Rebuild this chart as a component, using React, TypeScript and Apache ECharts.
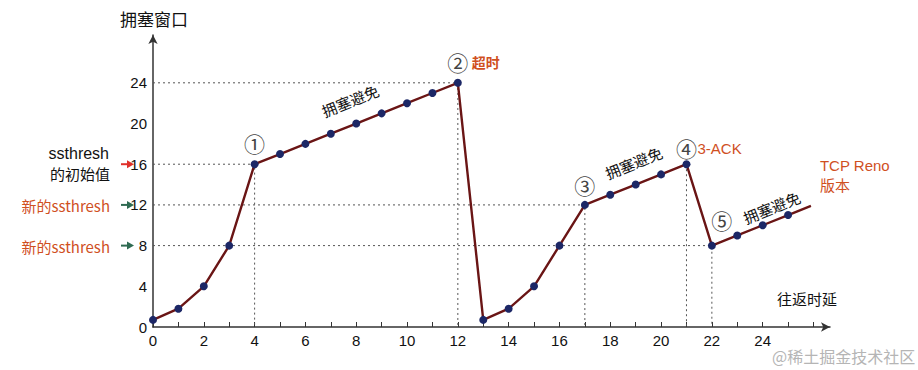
import React, { useEffect, useRef } from "react";
import * as echarts from "echarts";

const rounds = [0, 1, 2, 3, 4, 5, 6, 7, 8, 9, 10, 11, 12, 13, 14, 15, 16, 17, 18, 19, 20, 21, 22, 23, 24, 25, 25.9];
const cwnd = [0.7, 1.8, 4, 8, 16, 17, 18, 19, 20, 21, 22, 23, 24, 0.7, 1.8, 4, 8, 12, 13, 14, 15, 16, 8, 9, 10, 11, 11.9];
const yTicks = [0, 4, 8, 12, 16, 20, 24];
const xTickMax = 24;

const guideLines: number[][][] = [
  [[0, 24], [12, 24], [12, 0]],
  [[0, 16], [4, 16], [4, 0]],
  [[0, 12], [17, 12], [17, 0]],
  [[21, 16], [21, 0]],
  [[0, 8], [22, 8], [22, 0]],
];

const circleMarks = [
  { text: "①", x: 4, y: 16, dx: 0, dy: -21 },
  { text: "②", x: 12, y: 24, dx: 0, dy: -21 },
  { text: "③", x: 17, y: 12, dx: 0, dy: -20 },
  { text: "④", x: 21, y: 16, dx: 0, dy: -16 },
  { text: "⑤", x: 22, y: 8, dx: 10, dy: -26 },
];

const caLabels = [
  { x: 8, y: 20, dx: -6, dy: -23 },
  { x: 19, y: 14, dx: -2, dy: -22 },
  { x: 24, y: 10, dx: 9, dy: -18 },
];

const ORANGE = "#d0501f";
const LINE = "#6a1515";
const DOT = "#1c2766";
const FONT = "'Liberation Sans', Arial, 'Noto Sans CJK SC', sans-serif";
const CJK = "'Noto Sans CJK SC', 'Liberation Sans', sans-serif";

export default function App() {
  const ref = useRef<HTMLDivElement>(null);
  useEffect(() => {
    if (!ref.current) return;
    const chart = echarts.init(ref.current, null, { renderer: "svg" });
    const lineData = rounds.map((r, i) =>
      i === rounds.length - 1
        ? { value: [r, cwnd[i]], symbol: "none" }
        : { value: [r, cwnd[i]] }
    );
    const guideSeries = guideLines.map((pts) => ({
      type: "line",
      data: pts,
      symbol: "none",
      silent: true,
      z: 1,
      lineStyle: { color: "#555", width: 1, type: [2, 3] },
    }));
    chart.setOption({
      animation: false,
      grid: { left: 153, right: 88, top: 35, bottom: 43 },
      xAxis: {
        type: "value",
        min: 0,
        max: 26.65,
        interval: 1,
        splitLine: { show: false },
        axisLine: {
          lineStyle: { color: "#333", width: 1.5 },
          symbol: ["none", "arrow"],
          symbolSize: [7, 9],
        },
        axisTick: { inside: true, length: 5, lineStyle: { color: "#333" } },
        axisLabel: {
          margin: 6,
          fontSize: 15,
          color: "#111",
          fontFamily: FONT,
          showMaxLabel: false,
          formatter: (v: number) => (v % 2 === 0 && v <= xTickMax ? String(v) : ""),
        },
      },
      yAxis: {
        type: "value",
        min: 0,
        max: 28.7,
        interval: 4,
        splitLine: { show: false },
        axisLine: {
          show: true,
          lineStyle: { color: "#333", width: 1.5 },
          symbol: ["none", "arrow"],
          symbolSize: [7, 9],
        },
        axisTick: { show: false },
        axisLabel: {
          margin: 6,
          fontSize: 15,
          color: "#111",
          fontFamily: FONT,
          showMaxLabel: false,
          formatter: (v: number) => (yTicks.includes(v) ? String(v) : ""),
        },
      },
      series: [
        ...guideSeries,
        {
          type: "line",
          data: lineData,
          symbol: "circle",
          symbolSize: 8,
          z: 5,
          lineStyle: { color: LINE, width: 2.4 },
          itemStyle: { color: DOT },
        },
      ],
    });

    const px = (x: number, y: number) => chart.convertToPixel({ gridIndex: 0 }, [x, y]) as number[];
    const g: any[] = [];
    circleMarks.forEach((c) => {
      const p = px(c.x, c.y);
      g.push({
        type: "text",
        x: p[0] + c.dx,
        y: p[1] + c.dy,
        style: { text: c.text, fontSize: 21, fill: "#444", fontFamily: CJK, align: "center", verticalAlign: "middle" },
      });
    });
    const rot = Math.atan2(10.17, 25.4);
    caLabels.forEach((c) => {
      const p = px(c.x, c.y);
      g.push({
        type: "text",
        x: p[0] + c.dx,
        y: p[1] + c.dy,
        rotation: rot,
        style: { text: "拥塞避免", fontSize: 15, fill: "#111", fontFamily: CJK, align: "center", verticalAlign: "middle" },
      });
    });
    const p2 = px(12, 24);
    g.push({ type: "text", x: p2[0] + 14, y: p2[1] - 21, style: { text: "超时", fontSize: 14, fontWeight: "bold", fill: ORANGE, fontFamily: CJK, verticalAlign: "middle" } });
    const p4 = px(21, 16);
    g.push({ type: "text", x: p4[0] + 11, y: p4[1] - 16, style: { text: "3-ACK", fontSize: 15, fill: ORANGE, fontFamily: FONT, verticalAlign: "middle" } });
    const pe = px(25.9, 11.9);
    g.push({ type: "text", x: pe[0] + 9, y: pe[1] - 30, style: { text: "TCP Reno\n版本", fontSize: 15, lineHeight: 20, fill: ORANGE, fontFamily: FONT, verticalAlign: "middle" } });
    g.push({ type: "text", x: 777, y: 298, style: { text: "往返时延", fontSize: 15, fill: "#111", fontFamily: CJK, verticalAlign: "middle" } });
    g.push({ type: "text", x: 120, y: 18, style: { text: "拥塞窗口", fontSize: 17, fill: "#111", fontFamily: CJK, verticalAlign: "middle" } });

    // left annotations
    const y16 = px(0, 16)[1];
    const y12 = px(0, 12)[1];
    const y8 = px(0, 8)[1];
    g.push({ type: "text", x: 109, y: y16 - 11, style: { text: "ssthresh", fontSize: 16, fill: "#111", fontFamily: FONT, align: "right", verticalAlign: "middle" } });
    g.push({ type: "text", x: 110, y: y16 + 9, style: { text: "的初始值", fontSize: 15, fill: "#111", fontFamily: CJK, align: "right", verticalAlign: "middle" } });
    g.push({ type: "text", x: 110, y: y12 + 1, style: { text: "新的ssthresh", fontSize: 15, fill: ORANGE, fontFamily: CJK, align: "right", verticalAlign: "middle" } });
    g.push({ type: "text", x: 110, y: y8 + 1, style: { text: "新的ssthresh", fontSize: 15, fill: ORANGE, fontFamily: CJK, align: "right", verticalAlign: "middle" } });
    const arrow = (yy: number, color: string) => {
      g.push({ type: "line", shape: { x1: 121, y1: yy, x2: 128, y2: yy }, style: { stroke: color, lineWidth: 2 } });
      g.push({ type: "polygon", shape: { points: [[127, yy - 4], [134, yy], [127, yy + 4]] }, style: { fill: color } });
    };
    arrow(y16, "#e0302a");
    arrow(y12, "#2f6b52");
    arrow(y8, "#2f6b52");
    g.push({ type: "text", x: 772, y: 356, style: { text: "@稀土掘金技术社区", fontSize: 16, fill: "#b5b5b5", fontFamily: CJK, verticalAlign: "middle" } });

    chart.setOption({ graphic: g });
    return () => chart.dispose();
  }, []);
  return <div ref={ref} style={{ position: "fixed", left: 0, top: 0, width: 918, height: 370, background: "#fff" }} />;
}
